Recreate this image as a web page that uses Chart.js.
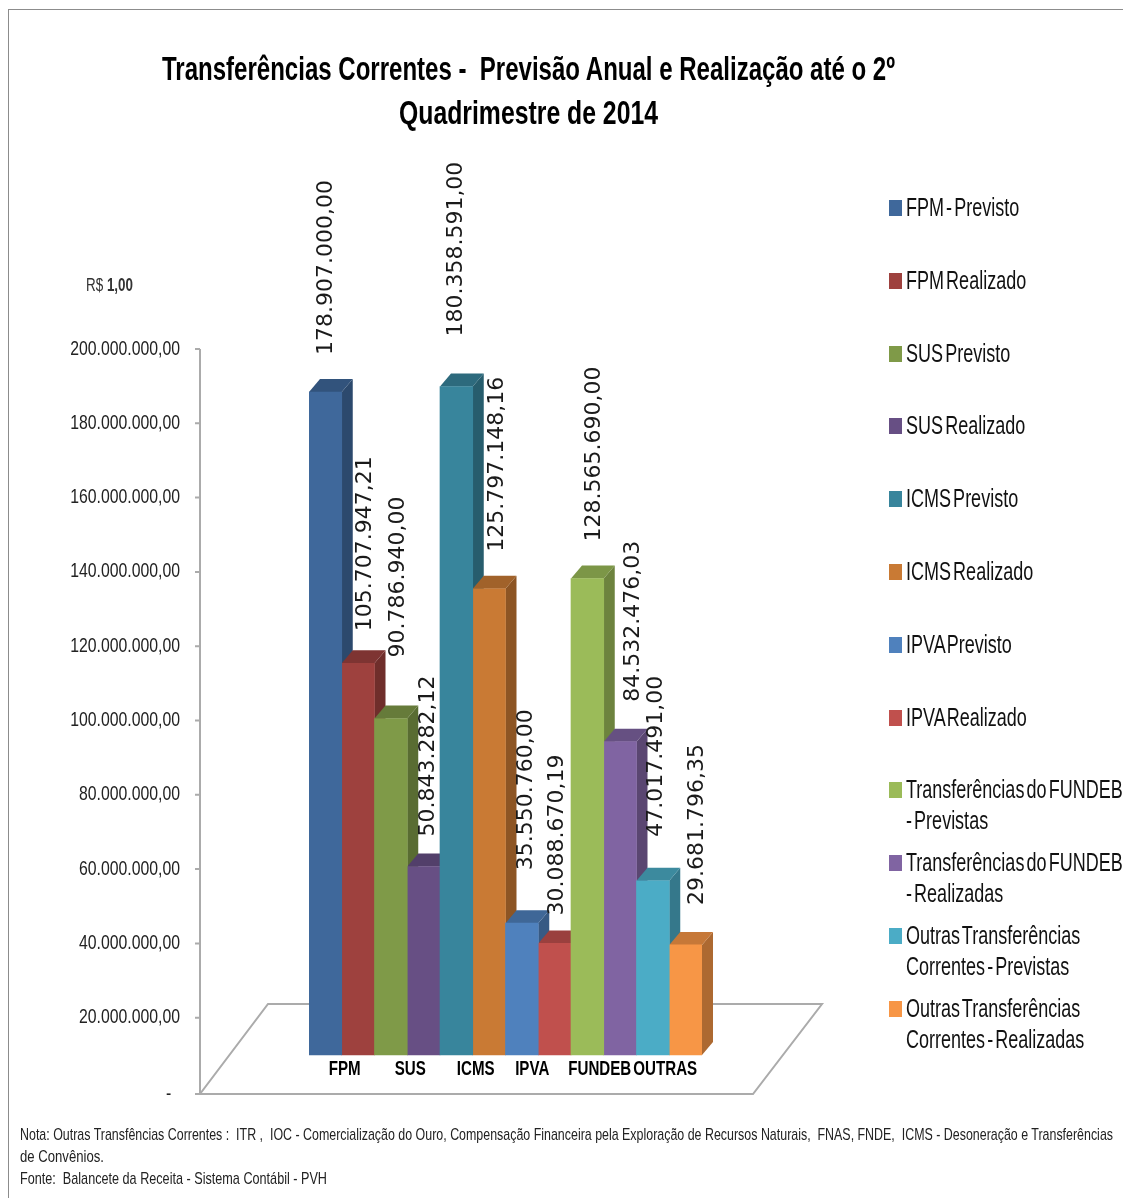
<!DOCTYPE html>
<html lang="pt-BR">
<head>
<meta charset="utf-8">
<title>Transferências Correntes</title>
<script src="https://cdn.jsdelivr.net/npm/chart.js@4/dist/chart.umd.min.js"></script>
<style>
    html, body { margin: 0; padding: 0; background: #fff; }
    body { width: 1123px; height: 1198px; position: relative; overflow: hidden; color: #111;
        font-family: "Liberation Sans", sans-serif; }
    #frame { position: absolute; left: 8px; top: 9px; width: 1200px; height: 1300px; border: 1px solid #8c8c8c; }
    #chart { position: absolute; left: 0; top: 0; }
    .line { display: block; width: max-content; white-space: pre; transform-origin: 0 50%; }
    #title { position: absolute; left: 0; top: 46px; margin: 0; font-size: 34px; line-height: 44px; font-weight: bold; color: #000; }
    #title-1 { margin-left: 162px; }
    #title-2 { margin-left: 399px; }
    #unit { position: absolute; left: 86px; top: 275px; font-size: 19px; line-height: 20px; color: #333; }
    #legend { position: absolute; left: 889px; top: 192px; margin: 0; padding: 0; list-style: none; }
    #legend li { position: relative; height: 72.8px; padding-left: 17px; font-size: 25px; line-height: 31px; color: #111; word-spacing: -4px; }
    #legend i { position: absolute; left: 0; top: 8px; width: 13px; height: 16px; }
    #note { position: absolute; left: 20px; top: 1124px; font-size: 17px; line-height: 22px; color: #222; }
</style>
</head>
<body>
<div id="frame"></div>
<canvas id="chart" width="1123" height="1198"></canvas>
<h1 id="title"><span class="line" id="title-1" data-w="733">Transferências Correntes -  Previsão Anual e Realização até o 2º</span><span class="line" id="title-2" data-w="259">Quadrimestre de 2014</span></h1>
<div id="unit"><span class="line" data-w="47">R$ <b>1,00</b></span></div>
<ul id="legend"></ul>
<div id="note">
    <span class="line" data-w="1093">Nota: Outras Transfências Correntes :  ITR ,  IOC - Comercialização do Ouro, Compensação Financeira pela Exploração de Recursos Naturais,  FNAS, FNDE,  ICMS - Desoneração e Transferências</span>
    <span class="line" data-w="84">de Convênios.</span>
    <span class="line" data-w="307">Fonte:  Balancete da Receita - Sistema Contábil - PVH</span>
</div>

<script>
// Chart data
const categories = ["FPM", "SUS", "ICMS", "IPVA", "FUNDEB", "OUTRAS"];
const previsto = [178907000.00, 90786940.00, 180358591.00, 35550760.00, 128565690.00, 47017491.00];
const realizado = [105707947.21, 50843282.12, 125797148.16, 30088670.19, 84532476.03, 29681796.35];
const seriesNames = [
    "FPM - Previsto", "FPM Realizado", "SUS Previsto", "SUS Realizado",
    "ICMS Previsto", "ICMS Realizado", "IPVA Previsto", "IPVA Realizado",
    "Transferências do FUNDEB\n- Previstas", "Transferências do FUNDEB\n- Realizadas",
    "Outras Transferências\nCorrentes - Previstas", "Outras Transferências\nCorrentes - Realizadas"
];

// Colours per category
const colorsPrevisto = ["#3F689B", "#7F9A48", "#38859C", "#4F81BD", "#9BBB59", "#4BACC6"];
const colorsRealizado = ["#9E413E", "#674F84", "#C97A34", "#C0504D", "#8064A2", "#F79646"];

// Hand placed value labels (px away from the bar top), [previsto, realizado] per category
const labelShiftX = [[1, 7], [7, 5], [0, 8], [4, 3], [7, 13], [3, 12]];
const labelShiftY = [[-37, -32], [-61, -30], [-50, -37], [-53, -28], [-37, -40], [-44, -40]];
const categoryShift = [3, 3, 3, -6, -4, -4];

const depthX = 11;
const depthY = 13;
const legendSqueeze = 0.72;
const money = new Intl.NumberFormat('pt-BR', { minimumFractionDigits: 2, maximumFractionDigits: 2 });

function shade(hex, f) {
    const n = parseInt(hex.slice(1), 16);
    const c = [n >> 16, (n >> 8) & 255, n & 255].map(v => Math.round(v * f));
    return `rgb(${c[0]},${c[1]},${c[2]})`;
}

// The reference text is squeezed sideways, there is no narrow font here
function squeezedText(ctx, text, x, y, f) {
    ctx.fillText(text, x, y, ctx.measureText(text).width * f);
}

// Floor and value axis, drawn behind the bars
const floorPlugin = {
    id: 'floor',
    beforeDatasetsDraw(chart) {
        const { ctx, scales } = chart;
        const yScale = scales.y;
        const bottom = yScale.getPixelForValue(0) + 2;
        ctx.save();
        ctx.strokeStyle = '#ababab';
        ctx.lineWidth = 2;
        ctx.beginPath();
        ctx.moveTo(200, bottom);
        ctx.lineTo(753, bottom);
        ctx.lineTo(822, bottom - 90);
        ctx.lineTo(268, bottom - 90);
        ctx.closePath();
        ctx.moveTo(200, yScale.getPixelForValue(200000000));
        ctx.lineTo(200, bottom);
        yScale.ticks.forEach(t => {
            const py = t.value === 0 ? bottom : yScale.getPixelForValue(t.value);
            ctx.moveTo(195, py);
            ctx.lineTo(200, py);
        });
        ctx.stroke();

        ctx.fillStyle = '#222';
        ctx.font = '20px "Liberation Sans"';
        ctx.textAlign = 'right';
        ctx.textBaseline = 'middle';
        yScale.ticks.forEach(t => {
            const py = t.value === 0 ? bottom : yScale.getPixelForValue(t.value);
            squeezedText(ctx, t.label, 180, py, 0.79);
        });
        ctx.restore();
    }
};

// Side and top faces of each bar
const depthPlugin = {
    id: 'depth',
    beforeDatasetsDraw(chart) {
        const { ctx } = chart;
        categories.forEach((c, i) => {
            [0, 1].forEach(d => {
                const bar = chart.getDatasetMeta(d).data[i];
                const color = chart.data.datasets[d].backgroundColor[i];
                const left = bar.x - bar.width / 2;
                const right = bar.x + bar.width / 2;
                ctx.fillStyle = shade(color, 0.7);
                ctx.beginPath();
                ctx.moveTo(right, bar.y);
                ctx.lineTo(right + depthX, bar.y - depthY);
                ctx.lineTo(right + depthX, bar.base - depthY);
                ctx.lineTo(right, bar.base);
                ctx.closePath();
                ctx.fill();
                ctx.fillStyle = shade(color, 0.8);
                ctx.beginPath();
                ctx.moveTo(left, bar.y);
                ctx.lineTo(left + depthX, bar.y - depthY);
                ctx.lineTo(right + depthX, bar.y - depthY);
                ctx.lineTo(right, bar.y);
                ctx.closePath();
                ctx.fill();
            });
        });
    }
};

// Rotated value labels and category names
const labelPlugin = {
    id: 'labels',
    afterDatasetsDraw(chart) {
        const { ctx, scales } = chart;
        ctx.save();
        ctx.fillStyle = '#1a1a1a';
        ctx.font = '22px "DejaVu Sans"';
        ctx.textAlign = 'left';
        ctx.textBaseline = 'middle';
        categories.forEach((c, i) => {
            [0, 1].forEach(d => {
                const bar = chart.getDatasetMeta(d).data[i];
                const value = chart.data.datasets[d].data[i];
                ctx.save();
                ctx.translate(bar.x + labelShiftX[i][d], bar.y + labelShiftY[i][d]);
                ctx.rotate(-Math.PI / 2);
                ctx.fillText(money.format(value), 0, 0);
                ctx.restore();
            });
        });
        ctx.fillStyle = '#000';
        ctx.font = 'bold 21px "Liberation Sans"';
        ctx.textAlign = 'center';
        categories.forEach((c, i) => {
            squeezedText(ctx, c, scales.x.getPixelForValue(i) + categoryShift[i], scales.yBars.getPixelForValue(0) + 14, 0.72);
        });
        ctx.restore();
    }
};

function renderLegend() {
    const list = document.getElementById('legend');
    seriesNames.forEach((name, i) => {
        const cat = Math.floor(i / 2);
        const color = i % 2 === 0 ? colorsPrevisto[cat] : colorsRealizado[cat];
        const li = document.createElement('li');
        const lines = name.split('\n').map(l => `<span class="line" style="transform:scaleX(${legendSqueeze})">${l}</span>`);
        li.innerHTML = `<i style="background:${color}"></i>` + lines.join('');
        list.appendChild(li);
    });
}

// Squeeze the html lines to the width they have in the reference
function fitLines() {
    document.querySelectorAll('.line[data-w]').forEach(el => {
        el.style.transform = `scaleX(${el.dataset.w / el.getBoundingClientRect().width})`;
    });
}

function init() {
    renderLegend();
    fitLines();
    new Chart(document.getElementById('chart').getContext('2d'), {
        type: 'bar',
        data: {
            labels: categories,
            datasets: [
                { label: 'Previsto', data: previsto, backgroundColor: colorsPrevisto, yAxisID: 'yBars' },
                { label: 'Realizado', data: realizado, backgroundColor: colorsRealizado, yAxisID: 'yBars' }
            ]
        },
        options: {
            responsive: false,
            animation: false,
            devicePixelRatio: 1,
            barPercentage: 1,
            categoryPercentage: 1,
            layout: { padding: { top: 349, bottom: 106, left: 0, right: 421 } },
            plugins: { legend: { display: false }, title: { display: false }, tooltip: { enabled: false } },
            scales: {
                x: { display: false },
                // About the same px per real as y but shifted up: the bars stand in the middle of the floor
                yBars: { display: false, position: 'left', min: -10000000, max: 190500000 },
                y: {
                    min: 0,
                    max: 200000000,
                    grid: { display: false, drawTicks: false },
                    border: { display: false },
                    afterFit(scale) { scale.width = 309; },
                    ticks: {
                        display: false,
                        stepSize: 20000000,
                        callback: v => v === 0 ? '-  ' : money.format(v)
                    }
                }
            }
        },
        plugins: [floorPlugin, depthPlugin, labelPlugin]
    });
}

document.addEventListener('DOMContentLoaded', init);
</script>
</body>
</html>
